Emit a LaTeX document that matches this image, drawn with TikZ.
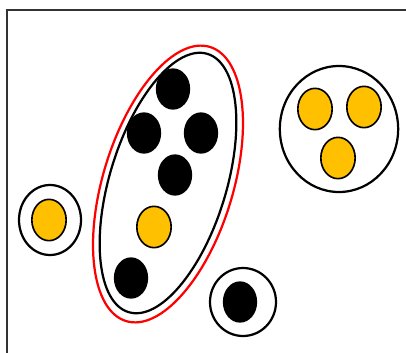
\documentclass[tikz,border=0pt]{standalone}
\usetikzlibrary{shapes.geometric}
\definecolor{gold}{RGB}{255,192,0}
\tikzset{
  dot/.style={ellipse, inner sep=0pt, minimum width=1.03cm,
    minimum height=1.24cm}, % every dot is an upright ellipse
  blackdot/.style={dot, fill=black},
  golddot/.style={dot, draw=black, line width=1.4pt, fill=gold},
  ring/.style={ellipse, draw=black, line width=1.9pt, inner sep=0pt}, % the groups
  frame/.style={draw=black!80, line width=1.8pt},
}
\begin{document}
\begin{tikzpicture}[x=0.03cm, y=-0.03cm]
    \useasboundingbox (0,0) rectangle (406,353);
    \draw[frame] (7,353) -- (7,10) -- (406,10);

    % the long group and its red outline
    \node[ring, draw=red, minimum width=8.6cm, minimum height=3.9cm,
      rotate=73] (halo) at (168,184) {};
    \node[ring, minimum width=8.1cm, minimum height=3.5cm,
      rotate=73] (cluster) at (168,183) {};
    \node[blackdot] (c_top) at (173,89) {};
    \node[blackdot] (c_left) at (144,133) {};
    \node[blackdot] (c_right) at (201,133) {};
    \node[blackdot] (c_mid) at (175,175) {};
    \node[golddot] (c_gold) at (154,227) {};
    \node[blackdot] (c_low) at (131,278) {};

    % the group of three
    \node[ring, minimum width=3.55cm, minimum height=3.78cm] (trio) at (339,129) {};
    \node[golddot] (t_left) at (315,109) {};
    \node[golddot] (t_right) at (364,107) {};
    \node[golddot] (t_low) at (338,158) {};

    % the two single ones
    \node[ring, minimum width=1.86cm, minimum height=2.1cm] (lone) at (50,220) {};
    \node[golddot] (l_gold) at (49,220) {};
    \node[ring, minimum width=1.98cm, minimum height=2.04cm] (single) at (243,302) {};
    \node[blackdot] (s_black) at (240,302) {};
\end{tikzpicture}
\end{document}
